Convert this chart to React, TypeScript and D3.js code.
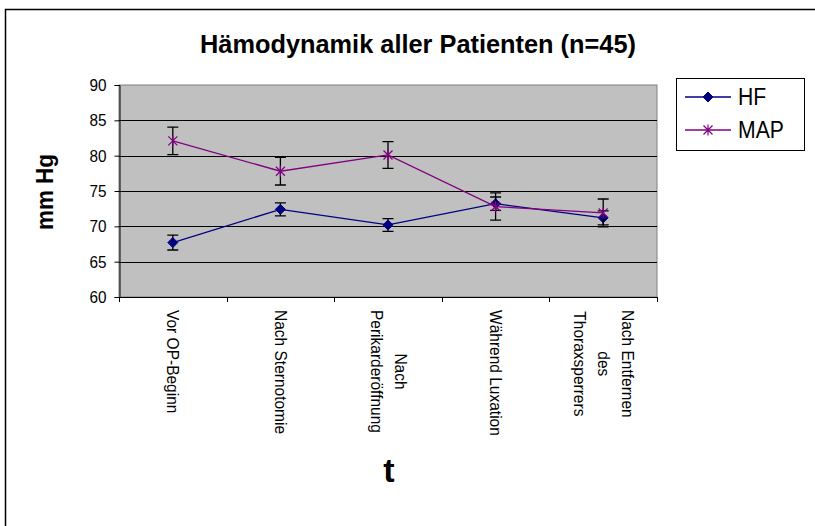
import React, { useEffect, useRef } from "react";
import * as d3 from "d3";

const categoryLines: string[][] = [
  ["Vor OP-Beginn"],
  ["Nach Sternotomie"],
  ["Nach", "Perikarderöffnung"],
  ["Während Luxation"],
  ["Nach Entfernen", "des", "Thoraxsperrers"],
];
const hfValues = [67.7, 72.4, 70.2, 73.2, 71.2];
const hfErrors = [1.05, 0.93, 0.9, 0.95, 1.0];
const mapValues = [82.1, 77.8, 80.1, 72.8, 71.9];
const mapErrors = [1.95, 1.95, 1.9, 1.93, 1.97];
const yTicks = [60, 65, 70, 75, 80, 85, 90];
const seriesNames = ["HF", "MAP"];
const titleText = "Hämodynamik aller Patienten (n=45)";
const yTitle = "mm Hg";
const xTitle = "t";

const FONT = "Arial, 'Liberation Sans', sans-serif";
const HF_COLOR = "#000080";
const MAP_COLOR = "#800080";

export default function App() {
  const ref = useRef<SVGSVGElement | null>(null);

  useEffect(() => {
    const svg = d3.select(ref.current);
    svg.selectAll("*").remove();
    const W = 815, H = 526;
    const px0 = 119, px1 = 657, py0 = 85, py1 = 297;

    // helper: text with its glyphs condensed like the reference (taller font, same length)
    const condense = (t: any, factor: number) => {
      const len = (t.node() as SVGTextElement).getComputedTextLength();
      t.attr("textLength", len * factor).attr("lengthAdjust", "spacingAndGlyphs");
    };

    svg.append("rect").attr("width", W).attr("height", H).attr("fill", "#fff");
    svg.append("rect").attr("x", 5.5).attr("y", 9.5).attr("width", 900).attr("height", 700)
      .attr("fill", "none").attr("stroke", "#000").attr("stroke-width", 1.5);

    const x = d3.scaleBand<number>().domain(d3.range(categoryLines.length)).range([px0, px1]);
    const cx = (i: number) => (x(i) as number) + x.bandwidth() / 2;
    const y = d3.scaleLinear().domain([60, 90]).range([py1, py0]);

    svg.append("rect").attr("x", px0).attr("y", py0).attr("width", px1 - px0).attr("height", py1 - py0)
      .attr("fill", "#c0c0c0").attr("stroke", "#808080").attr("stroke-width", 1);

    svg.append("g").selectAll("line").data(yTicks.filter(t => t > 60 && t < 90)).join("line")
      .attr("x1", px0).attr("x2", px1)
      .attr("y1", d => Math.round(y(d)) + 0.5).attr("y2", d => Math.round(y(d)) + 0.5)
      .attr("stroke", "#000").attr("stroke-width", 1);

    const yAxis = d3.axisLeft(y).tickValues(yTicks).tickSize(5).tickPadding(8).tickFormat(d3.format("d"));
    const ga = svg.append("g").attr("transform", `translate(${px0 + 0.5},0)`).call(yAxis);
    ga.select(".domain").attr("stroke", "#000");
    ga.selectAll(".tick line").attr("stroke", "#000");
    ga.selectAll(".tick text").attr("font-family", FONT).attr("font-size", 17).attr("fill", "#000")
      .each(function () { condense(d3.select(this), 0.9); });

    svg.append("line").attr("x1", px0).attr("x2", px1).attr("y1", py1 + 0.5).attr("y2", py1 + 0.5)
      .attr("stroke", "#000");
    const bounds = d3.range(categoryLines.length + 1).map(i => px0 + i * x.bandwidth());
    svg.append("g").selectAll("line").data(bounds).join("line")
      .attr("x1", d => Math.round(d) + 0.5).attr("x2", d => Math.round(d) + 0.5)
      .attr("y1", py1).attr("y2", py1 + 5).attr("stroke", "#000");

    // x labels (rotated, top-to-bottom)
    const labelTop = 310;
    const lineGap = 24;
    categoryLines.forEach((lines, i) => {
      const g = svg.append("g");
      const texts = lines.map(l => g.append("text").text(l)
        .attr("font-family", FONT).attr("font-size", 17).attr("fill", "#000"));
      const lens = texts.map(t => (t.node() as SVGTextElement).getComputedTextLength() * (15.5 / 17));
      const maxLen = d3.max(lens) || 0;
      const n = lines.length;
      texts.forEach((t, j) => {
        const xp = cx(i) + ((n - 1) / 2 - j) * lineGap;
        t.attr("textLength", lens[j]).attr("lengthAdjust", "spacingAndGlyphs")
          .attr("text-anchor", "middle").attr("dominant-baseline", "central")
          .attr("transform", `translate(${xp},${labelTop + maxLen / 2}) rotate(90)`);
      });
    });

    const series = [
      { name: seriesNames[0], values: hfValues, errors: hfErrors, color: HF_COLOR, marker: "diamond" },
      { name: seriesNames[1], values: mapValues, errors: mapErrors, color: MAP_COLOR, marker: "star" },
    ];

    const drawMarker = (g: any, kind: string, color: string, mx: number, my: number) => {
      if (kind === "diamond") {
        g.append("path").attr("d", `M${mx},${my - 5}L${mx + 5},${my}L${mx},${my + 5}L${mx - 5},${my}Z`)
          .attr("fill", color).attr("stroke", color).attr("stroke-width", 1);
      } else {
        const s = 4.5;
        g.append("path")
          .attr("d", `M${mx - s},${my - s}L${mx + s},${my + s}M${mx - s},${my + s}L${mx + s},${my - s}M${mx},${my - s - 1}L${mx},${my + s + 1}`)
          .attr("stroke", color).attr("stroke-width", 1.2).attr("fill", "none");
      }
    };

    const line = d3.line<number>().x((_, i) => cx(i)).y(d => y(d));
    series.forEach(s => {
      const g = svg.append("g");
      g.append("path").attr("d", line(s.values)).attr("fill", "none")
        .attr("stroke", s.color).attr("stroke-width", 1.3);
      s.values.forEach((v, i) => {
        const xx = cx(i);
        const yt = y(v + s.errors[i]), yb = y(v - s.errors[i]);
        g.append("path")
          .attr("d", `M${xx},${yt}L${xx},${yb}M${xx - 5.5},${yt}L${xx + 5.5},${yt}M${xx - 5.5},${yb}L${xx + 5.5},${yb}`)
          .attr("stroke", "#000").attr("stroke-width", 1.3).attr("fill", "none");
      });
      s.values.forEach((v, i) => drawMarker(g, s.marker, s.color, cx(i), y(v)));
    });

    const lg = svg.append("g");
    lg.append("rect").attr("x", 676.5).attr("y", 78.5).attr("width", 128).attr("height", 72)
      .attr("fill", "#fff").attr("stroke", "#000");
    series.forEach((s, i) => {
      const ly = 97 + i * 33;
      lg.append("line").attr("x1", 685).attr("x2", 731).attr("y1", ly).attr("y2", ly)
        .attr("stroke", s.color).attr("stroke-width", 1.3);
      drawMarker(lg, s.marker, s.color, 708, ly);
      const t = lg.append("text").text(s.name).attr("x", 738).attr("y", ly).attr("dominant-baseline", "central")
        .attr("font-family", FONT).attr("font-size", 23).attr("fill", "#000");
      condense(t, 0.92);
    });

    const tt = svg.append("text").text(titleText).attr("x", 418).attr("y", 44)
      .attr("text-anchor", "middle").attr("dominant-baseline", "central")
      .attr("font-family", FONT).attr("font-weight", "bold").attr("font-size", 26).attr("fill", "#000");
    tt.attr("textLength", 436).attr("lengthAdjust", "spacingAndGlyphs");
    const yt = svg.append("text").text(yTitle).attr("transform", "translate(44,192) rotate(-90)")
      .attr("text-anchor", "middle").attr("dominant-baseline", "central")
      .attr("font-family", FONT).attr("font-weight", "bold").attr("font-size", 24).attr("fill", "#000");
    yt.attr("textLength", 76).attr("lengthAdjust", "spacingAndGlyphs");
    svg.append("text").text(xTitle).attr("x", 389).attr("y", 470)
      .attr("text-anchor", "middle").attr("dominant-baseline", "central")
      .attr("font-family", FONT).attr("font-weight", "bold").attr("font-size", 34).attr("fill", "#000");
  }, []);

  return (
    <svg ref={ref} width={815} height={526}
      style={{ position: "absolute", left: 0, top: 0, display: "block" }} />
  );
}
